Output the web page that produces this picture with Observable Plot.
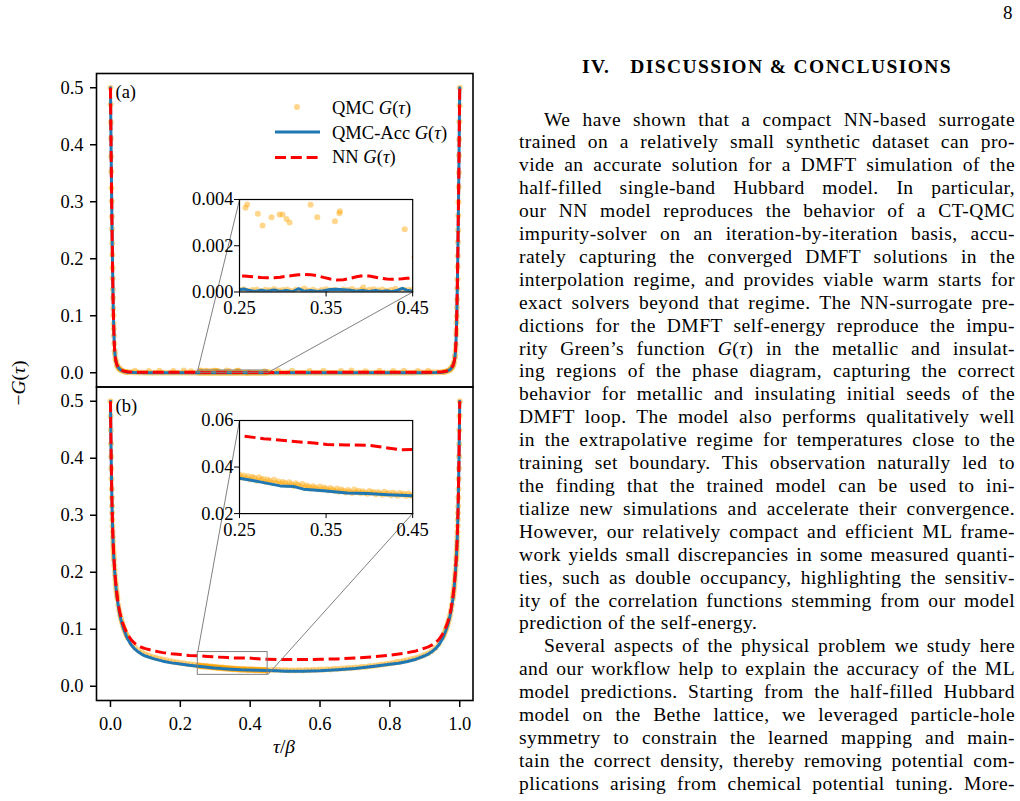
<!DOCTYPE html>
<html>
<head>
<meta charset="utf-8">
<script src="https://cdn.jsdelivr.net/npm/d3@7"></script>
<script src="https://cdn.jsdelivr.net/npm/@observablehq/plot@0.6"></script>
<style>
html,body{margin:0;padding:0;background:#fff}
body{width:1020px;height:801px;position:relative;overflow:hidden;font-family:"Liberation Serif","Times New Roman",serif;color:#000}
.abs{position:absolute}
#fig{position:absolute;left:0;top:0;width:500px;height:801px}
#fig svg{position:absolute;display:block;left:0;top:0}
.col{position:absolute;left:519px;top:108.5px;width:496px;font-size:19.5px;line-height:22.9px;letter-spacing:0.45px}
.col div{white-space:nowrap;text-align:left}
.col div.i{padding-left:25px}
.hd{position:absolute;left:519px;width:496px;top:55px;text-align:center;font-weight:bold;font-size:19.5px;line-height:24px;white-space:nowrap}
.pn{position:absolute;left:1003px;top:2px;font-size:19px;line-height:22px}
.leg{position:absolute;left:332px;font-size:18.5px;line-height:22px;white-space:nowrap}
.lab{position:absolute;font-size:19.5px;line-height:22px;white-space:nowrap;transform:translate(-50%,-50%)}
</style>
</head>
<body>
<div id="fig"></div>
<svg class="abs" style="left:270px;top:95px" width="60" height="75">
  <circle cx="27" cy="12" r="3" fill="#ffa500" fill-opacity="0.45"/>
  <line x1="5" x2="50" y1="37" y2="37" stroke="#1f77b4" stroke-width="3"/>
  <line x1="5" x2="50" y1="62.5" y2="62.5" stroke="#ff0000" stroke-width="3" stroke-dasharray="11,4.8"/>
</svg>
<div class="leg" style="top:97px">QMC <i>G</i>(<i>τ</i>)</div>
<div class="leg" style="top:121.5px">QMC-Acc <i>G</i>(<i>τ</i>)</div>
<div class="leg" style="top:146px">NN <i>G</i>(<i>τ</i>)</div>
<div class="lab" style="left:19px;top:383px;transform:translate(-50%,-50%) rotate(-90deg)">−<i>G</i>(<i>τ</i>)</div>
<div class="lab" style="left:284px;top:747px"><i>τ</i>/<i>β</i></div>

<div class="pn">8</div>
<div class="hd"><span id="hdtxt">IV.<span style="display:inline-block;width:20px"></span>DISCUSSION &amp; CONCLUSIONS</span></div>
<div class="col">
<div class="i">We have shown that a compact NN-based surrogate</div>
<div>trained on a relatively small synthetic dataset can pro-</div>
<div>vide an accurate solution for a DMFT simulation of the</div>
<div>half-filled single-band Hubbard model. In particular,</div>
<div>our NN model reproduces the behavior of a CT-QMC</div>
<div>impurity-solver on an iteration-by-iteration basis, accu-</div>
<div>rately capturing the converged DMFT solutions in the</div>
<div>interpolation regime, and provides viable warm starts for</div>
<div>exact solvers beyond that regime. The NN-surrogate pre-</div>
<div>dictions for the DMFT self-energy reproduce the impu-</div>
<div>rity Green’s function <i>G</i>(<i>τ</i>) in the metallic and insulat-</div>
<div>ing regions of the phase diagram, capturing the correct</div>
<div>behavior for metallic and insulating initial seeds of the</div>
<div>DMFT loop. The model also performs qualitatively well</div>
<div>in the extrapolative regime for temperatures close to the</div>
<div>training set boundary. This observation naturally led to</div>
<div>the finding that the trained model can be used to ini-</div>
<div>tialize new simulations and accelerate their convergence.</div>
<div>However, our relatively compact and efficient ML frame-</div>
<div>work yields small discrepancies in some measured quanti-</div>
<div>ties, such as double occupancy, highlighting the sensitiv-</div>
<div>ity of the correlation functions stemming from our model</div>
<div class="e">prediction of the self-energy.</div>
<div class="i">Several aspects of the physical problem we study here</div>
<div>and our workflow help to explain the accuracy of the ML</div>
<div>model predictions. Starting from the half-filled Hubbard</div>
<div>model on the Bethe lattice, we leveraged particle-hole</div>
<div>symmetry to constrain the learned mapping and main-</div>
<div>tain the correct density, thereby removing potential com-</div>
<div>plications arising from chemical potential tuning. More-</div>
</div>

<script>
// ---------------- DATA (tau/beta, -G(tau)) ----------------
// Panel (a): insulating solution
const accA = [[0,0.5],[0.001,0.44],[0.002,0.38],[0.003,0.325],[0.004,0.275],[0.005,0.228],[0.006,0.185],[0.007,0.147],[0.008,0.114],[0.009,0.087],[0.01,0.066],[0.011,0.05],[0.012,0.039],[0.014,0.026],[0.016,0.019],[0.018,0.0145],[0.02,0.0115],[0.025,0.007],[0.03,0.0045],[0.035,0.0031],[0.04,0.0021],[0.05,0.001],[0.07,0.0004],[0.1,0.0002],[0.15,0.00012],[0.2,0.0001],[0.225,0.00008],
[0.25,0.0001],[0.255,0.00013],[0.262,0.00006],[0.268,0.00002],[0.275,0.00008],[0.282,0.00003],[0.29,0.00009],[0.297,0.00002],[0.304,0.00007],[0.311,0.00001],[0.318,0.00014],[0.325,0.00003],[0.332,0.00006],[0.34,0.00002],[0.347,0.00005],[0.355,0.00011],[0.362,0.00012],[0.37,0.0001],[0.378,0.00008],[0.385,0.00003],[0.392,0.00006],[0.4,0.00002],[0.407,0.00007],[0.414,0.00002],[0.42,0.00005],[0.426,0.00001],[0.433,0.00008],[0.438,0.00016],[0.443,0.00008],[0.45,0.00003],
[0.475,0.00008],[0.5,0.0001],[0.55,0.00009],[0.6,0.0001],[0.7,0.0001],[0.8,0.00012],[0.85,0.00015],[0.9,0.0002],[0.93,0.0004],[0.95,0.001],[0.96,0.0021],[0.965,0.0031],[0.97,0.0045],[0.975,0.007],[0.98,0.0115],[0.982,0.0145],[0.984,0.019],[0.986,0.026],[0.988,0.039],[0.989,0.05],[0.99,0.066],[0.991,0.087],[0.992,0.114],[0.993,0.147],[0.994,0.185],[0.995,0.228],[0.996,0.275],[0.997,0.325],[0.998,0.38],[0.999,0.44],[1,0.5]];

const nnA = [[0,0.5],[0.001,0.44],[0.002,0.38],[0.003,0.325],[0.004,0.275],[0.005,0.228],[0.006,0.185],[0.007,0.147],[0.008,0.114],[0.009,0.087],[0.01,0.066],[0.011,0.0505],[0.012,0.0395],[0.014,0.0265],[0.016,0.0195],[0.018,0.015],[0.02,0.012],[0.025,0.0075],[0.03,0.005],[0.035,0.0036],[0.04,0.0026],[0.05,0.0015],[0.07,0.001],[0.1,0.0008],[0.15,0.00075],[0.2,0.00072],[0.225,0.0007],
[0.25,0.0007],[0.255,0.00069],[0.262,0.00067],[0.268,0.00065],[0.275,0.00063],[0.282,0.00062],[0.29,0.00062],[0.297,0.00064],[0.304,0.00068],[0.311,0.00071],[0.318,0.00074],[0.325,0.00076],[0.332,0.00075],[0.34,0.0007],[0.347,0.00063],[0.355,0.00056],[0.362,0.00052],[0.37,0.00053],[0.378,0.00059],[0.385,0.00066],[0.392,0.0007],[0.4,0.00069],[0.407,0.00064],[0.414,0.00059],[0.42,0.00056],[0.426,0.00055],[0.433,0.00056],[0.438,0.00057],[0.443,0.00059],[0.45,0.0006],
[0.475,0.00062],[0.5,0.00065],[0.55,0.00068],[0.6,0.0007],[0.7,0.0007],[0.8,0.00072],[0.85,0.00075],[0.9,0.0008],[0.93,0.001],[0.95,0.0015],[0.96,0.0026],[0.965,0.0036],[0.97,0.005],[0.975,0.0075],[0.98,0.012],[0.982,0.015],[0.984,0.0195],[0.986,0.0265],[0.988,0.0395],[0.989,0.0505],[0.99,0.066],[0.991,0.087],[0.992,0.114],[0.993,0.147],[0.994,0.185],[0.995,0.228],[0.996,0.275],[0.997,0.325],[0.998,0.38],[0.999,0.44],[1,0.5]];

const qmcA = [[0,0.5],[0.0005,0.471],[0.001,0.439],[0.0015,0.411],[0.002,0.379],[0.0025,0.353],[0.003,0.324],[0.0035,0.301],[0.004,0.274],[0.0045,0.252],[0.005,0.227],[0.0055,0.207],[0.006,0.184],[0.0065,0.166],[0.007,0.146],[0.0075,0.131],[0.008,0.113],[0.0085,0.101],[0.009,0.086],[0.0095,0.077],[0.01,0.065],[0.011,0.051],[0.012,0.038],[0.013,0.033],[0.014,0.025],[0.016,0.02],[0.018,0.014],[0.02,0.012],[0.0225,0.0088],[0.025,0.0073],[0.0275,0.0055],[0.03,0.0047],[0.035,0.003],[0.04,0.0022],[0.045,0.0014],
[0.05,0.0011],[0.06,0.0007],[0.07,0.0005],[0.08,0.0003],[0.09,0.00025],[0.1,0.0002],[0.11,0.00015],[0.12,0.00012],[0.13,0.0001],[0.14,0.00009],[0.15,0.00011],[0.16,0.00008],[0.17,0.0001],[0.18,0.00007],[0.19,0.00011],[0.2,0.00009],[0.21,0.00006],[0.22,0.0001],[0.23,0.00008],[0.24,0.00011],
[0.25,0.00009],[0.255,0.00012],[0.26,0.00005],[0.265,0.00008],[0.27,0.00011],[0.275,0.00004],[0.28,0.0001],[0.285,0.00007],[0.29,0.00013],[0.295,0.00006],[0.3,0.00009],[0.305,0.00011],[0.31,0.00004],[0.315,0.0001],[0.32,0.00008],[0.325,0.00015],[0.33,0.00006],[0.335,0.0001],[0.34,0.00003],[0.345,0.00009],[0.35,0.00012],[0.355,0.00007],[0.36,0.0001],[0.365,0.00005],[0.37,0.00011],[0.375,0.00008],[0.38,0.00013],[0.385,0.00006],[0.39,0.00009],[0.393,0.00019],[0.395,0.00004],[0.4,0.0001],[0.405,0.00012],[0.41,0.00007],[0.415,0.00011],[0.42,0.00005],[0.425,0.00009],[0.43,0.00014],[0.435,0.00006],[0.44,0.0001],[0.445,0.00008],[0.45,0.00011],
[0.46,0.00009],[0.47,0.00006],[0.48,0.0001],[0.49,0.00008],[0.5,0.00011],[0.51,0.00007],[0.52,0.0001],[0.53,0.00005],[0.54,0.00009],[0.55,0.00012],[0.56,0.00008],[0.57,0.0001],[0.58,0.00006],[0.59,0.00009],[0.6,0.00011],[0.61,0.00007],[0.62,0.0001],[0.63,0.00008],[0.64,0.00012],[0.65,0.00006],[0.66,0.00009],[0.67,0.0001],[0.68,0.00007],[0.69,0.00011],[0.7,0.00008],[0.71,0.0001],[0.72,0.00006],[0.73,0.00009],[0.74,0.00012],[0.75,0.00008],[0.76,0.0001],[0.77,0.00007],[0.78,0.00011],[0.79,0.00009],[0.8,0.00012],[0.81,0.0001],[0.82,0.00013],[0.83,0.00011],[0.84,0.00014],[0.85,0.00015],[0.86,0.00017],[0.87,0.0002],[0.88,0.00022],[0.89,0.00027],[0.9,0.00032],[0.91,0.0004],[0.92,0.0005],[0.93,0.0007],[0.94,0.0009],[0.95,0.0013],
[0.955,0.0015],[0.96,0.0021],[0.965,0.0032],[0.97,0.0045],[0.9725,0.0058],[0.975,0.0071],[0.9775,0.0091],[0.98,0.0114],[0.982,0.0146],[0.984,0.019],[0.986,0.027],[0.987,0.031],[0.988,0.04],[0.989,0.049],[0.99,0.067],[0.9905,0.075],[0.991,0.088],[0.9915,0.099],[0.992,0.115],[0.9925,0.129],[0.993,0.148],[0.9935,0.164],[0.994,0.186],[0.9945,0.205],[0.995,0.229],[0.9955,0.25],[0.996,0.276],[0.9965,0.299],[0.997,0.326],[0.9975,0.351],[0.998,0.381],[0.9985,0.409],[0.999,0.441],[0.9995,0.469],[1,0.5],
// scattered QMC outliers
[0.2569,0.00364],[0.2589,0.00378],[0.2712,0.00338],[0.2766,0.00287],[0.287,0.00323],[0.2962,0.00335],[0.2997,0.00335],[0.3043,0.00316],[0.3078,0.00301],[0.3321,0.00377],[0.3398,0.00323],[0.3602,0.00306],[0.3653,0.0034],[0.366,0.00349],[0.4408,0.00271],[0.452,0.0015],
[0.07,0.0034],[0.11,0.0029],[0.14,0.0036],[0.18,0.0031],[0.21,0.0038],[0.23,0.0027],[0.48,0.0033],[0.52,0.0036],[0.57,0.0029],[0.61,0.0035],[0.66,0.0031],[0.69,0.0038],[0.73,0.0028],[0.77,0.0034],[0.81,0.0032],[0.84,0.0037],[0.88,0.003],[0.91,0.0035]];

// Panel (b): metallic solution
const accB = [[0,0.5],[0.001,0.448],[0.002,0.402],[0.003,0.363],[0.004,0.33],[0.005,0.303],[0.006,0.28],[0.007,0.261],[0.008,0.245],[0.009,0.232],[0.01,0.221],[0.012,0.202],[0.014,0.186],[0.016,0.172],[0.018,0.161],[0.02,0.151],[0.025,0.131],[0.03,0.117],[0.035,0.106],[0.04,0.097],[0.045,0.089],[0.05,0.082],[0.06,0.072],[0.07,0.065],[0.08,0.06],[0.09,0.056],[0.1,0.053],[0.125,0.048],[0.15,0.044],[0.175,0.041],[0.2,0.039],[0.225,0.037],
[0.25,0.0352],[0.265,0.0342],[0.278,0.0333],[0.297,0.0319],[0.313,0.0316],[0.324,0.0305],[0.347,0.0298],[0.374,0.0288],[0.398,0.0286],[0.421,0.0281],[0.45,0.0277],
[0.475,0.027],[0.5,0.0264],[0.525,0.0263],[0.55,0.0265],[0.6,0.0272],[0.65,0.0288],[0.7,0.031],[0.75,0.0345],[0.8,0.0385],[0.825,0.0405],[0.85,0.0435],[0.875,0.0475],[0.9,0.0535],[0.91,0.0565],[0.92,0.0605],[0.93,0.0655],[0.94,0.0725],[0.95,0.0825],[0.955,0.0895],[0.96,0.0975],[0.965,0.1065],[0.97,0.1175],[0.975,0.1315],[0.98,0.1515],[0.982,0.1615],[0.984,0.1725],[0.986,0.1865],[0.988,0.2025],[0.99,0.2215],[0.991,0.2325],[0.992,0.2455],[0.993,0.2615],[0.994,0.2805],[0.995,0.3035],[0.996,0.3305],[0.997,0.3635],[0.998,0.4025],[0.999,0.4485],[1,0.5]];

const nnB = [[0,0.5],[0.001,0.45],[0.002,0.404],[0.003,0.366],[0.004,0.333],[0.005,0.306],[0.006,0.283],[0.007,0.264],[0.008,0.248],[0.009,0.235],[0.01,0.224],[0.012,0.205],[0.014,0.189],[0.016,0.175],[0.018,0.164],[0.02,0.154],[0.025,0.135],[0.03,0.121],[0.035,0.111],[0.04,0.103],[0.045,0.096],[0.05,0.09],[0.06,0.081],[0.07,0.075],[0.08,0.071],[0.09,0.068],[0.1,0.066],[0.125,0.062],[0.15,0.059],[0.175,0.057],[0.2,0.0555],[0.225,0.054],
[0.25,0.0535],[0.278,0.0522],[0.309,0.0511],[0.336,0.0503],[0.351,0.0497],[0.374,0.0495],[0.398,0.0494],[0.421,0.0482],[0.436,0.0474],[0.45,0.0475],
[0.475,0.0471],[0.5,0.0468],[0.525,0.0467],[0.55,0.0468],[0.6,0.0472],[0.65,0.048],[0.7,0.0495],[0.75,0.0515],[0.8,0.0545],[0.825,0.0565],[0.85,0.059],[0.875,0.062],[0.9,0.067],[0.91,0.069],[0.92,0.072],[0.93,0.076],[0.94,0.082],[0.95,0.0905],[0.955,0.0965],[0.96,0.1035],[0.965,0.1115],[0.97,0.1215],[0.975,0.1355],[0.98,0.1545],[0.982,0.1645],[0.984,0.1755],[0.986,0.1895],[0.988,0.2055],[0.99,0.2245],[0.991,0.2355],[0.992,0.2485],[0.993,0.2645],[0.994,0.2835],[0.995,0.3065],[0.996,0.3335],[0.997,0.3665],[0.998,0.4045],[0.999,0.45],[1,0.5]];

const qmcB = [[0,0.5],[0.0005,0.474],[0.001,0.449],[0.0015,0.425],[0.002,0.403],[0.0025,0.382],[0.003,0.364],[0.0035,0.346],[0.004,0.331],[0.0045,0.316],[0.005,0.304],[0.0055,0.292],[0.006,0.281],[0.0065,0.271],[0.007,0.262],[0.0075,0.254],[0.008,0.246],[0.0085,0.239],[0.009,0.233],[0.0095,0.227],[0.01,0.222],[0.011,0.212],[0.012,0.203],[0.013,0.195],[0.014,0.187],[0.015,0.18],[0.016,0.174],[0.017,0.168],[0.018,0.163],[0.019,0.158],[0.02,0.153],[0.0225,0.142],[0.025,0.133],[0.0275,0.125],[0.03,0.119],[0.0325,0.113],[0.035,0.108],[0.0375,0.103],[0.04,0.099],[0.0425,0.095],[0.045,0.091],[0.0475,0.088],[0.05,0.085],
[0.06,0.0755],[0.07,0.0685],[0.08,0.063],[0.09,0.059],[0.1,0.056],[0.11,0.054],[0.12,0.0515],[0.13,0.0502],[0.14,0.0483],[0.15,0.047],[0.16,0.0455],[0.17,0.0443],[0.18,0.043],[0.19,0.0422],[0.2,0.041],[0.21,0.0402],[0.22,0.039],[0.23,0.0386],[0.24,0.0376],
[0.25,0.0368],[0.2525,0.0355],[0.255,0.0364],[0.2575,0.0352],[0.26,0.036],[0.2625,0.0347],[0.265,0.0357],[0.2675,0.0353],[0.27,0.0341],[0.2725,0.0356],[0.275,0.0345],[0.2775,0.0349],[0.28,0.0336],[0.2825,0.0347],[0.285,0.034],[0.2875,0.0333],[0.29,0.0345],[0.2925,0.033],[0.295,0.0338],[0.2975,0.0327],[0.3,0.0336],[0.3025,0.0331],[0.305,0.0322],[0.3075,0.0335],[0.31,0.0326],[0.3125,0.0319],[0.315,0.033],[0.3175,0.0323],[0.32,0.0316],[0.3225,0.0327],[0.325,0.0312],[0.3275,0.0321],[0.33,0.0315],[0.3325,0.0308],[0.335,0.0318],[0.3375,0.0311],[0.34,0.0305],[0.3425,0.0316],[0.345,0.0303],[0.3475,0.0312],[0.35,0.0307],[0.3525,0.0299],[0.355,0.031],[0.3575,0.0302],[0.36,0.0297],[0.3625,0.0308],[0.365,0.0294],[0.3675,0.0303],[0.37,0.0298],[0.3725,0.0291],[0.375,0.0301],[0.3775,0.0295],[0.38,0.0289],[0.3825,0.0303],[0.385,0.0292],[0.3875,0.0298],[0.39,0.0287],[0.3925,0.0296],[0.395,0.029],[0.3975,0.0285],[0.4,0.0297],[0.4025,0.0288],[0.405,0.0293],[0.4075,0.0283],[0.41,0.0292],[0.4125,0.0287],[0.415,0.0281],[0.4175,0.0294],[0.42,0.0284],[0.4225,0.0289],[0.425,0.0279],[0.4275,0.029],[0.43,0.0283],[0.4325,0.0277],[0.435,0.0288],[0.4375,0.0281],[0.44,0.0285],[0.4425,0.0276],[0.445,0.0286],[0.4475,0.0279],[0.45,0.0274],
[0.46,0.029],[0.47,0.0284],[0.48,0.0289],[0.49,0.0279],[0.5,0.0283],[0.51,0.0276],[0.52,0.0281],[0.53,0.0275],[0.54,0.0284],[0.55,0.0278],[0.56,0.0286],[0.57,0.028],[0.58,0.0291],[0.59,0.0285],[0.6,0.0292],[0.61,0.0289],[0.62,0.0298],[0.63,0.0295],[0.64,0.0306],[0.65,0.0301],[0.66,0.0312],[0.67,0.031],[0.68,0.0321],[0.69,0.0318],[0.7,0.033],[0.71,0.0328],[0.72,0.034],[0.73,0.0339],[0.74,0.0352],[0.75,0.0356],[0.76,0.0365],[0.77,0.0372],[0.78,0.0381],[0.79,0.0392],[0.8,0.0401],[0.81,0.0409],[0.82,0.0424],[0.83,0.0432],[0.84,0.0449],[0.85,0.0455],[0.86,0.0472],[0.87,0.0488],[0.88,0.0506],[0.89,0.0528],[0.9,0.0551],[0.91,0.058],[0.92,0.062],[0.93,0.067],[0.94,0.074],
[0.95,0.085],[0.9525,0.088],[0.955,0.091],[0.9575,0.095],[0.96,0.099],[0.9625,0.103],[0.965,0.108],[0.9675,0.113],[0.97,0.119],[0.9725,0.125],[0.975,0.133],[0.9775,0.142],[0.98,0.153],[0.981,0.158],[0.982,0.163],[0.983,0.168],[0.984,0.174],[0.985,0.18],[0.986,0.187],[0.987,0.195],[0.988,0.203],[0.989,0.212],[0.99,0.222],[0.9905,0.227],[0.991,0.233],[0.9915,0.239],[0.992,0.246],[0.9925,0.254],[0.993,0.262],[0.9935,0.271],[0.994,0.281],[0.9945,0.292],[0.995,0.304],[0.9955,0.316],[0.996,0.331],[0.9965,0.346],[0.997,0.364],[0.9975,0.382],[0.998,0.403],[0.9985,0.425],[0.999,0.449],[0.9995,0.474],[1,0.5]];

// Ticks
const yTicksMain = [0, 0.1, 0.2, 0.3, 0.4, 0.5];
const xTicksMain = [0, 0.2, 0.4, 0.6, 0.8, 1.0];
const insetX = [0.25, 0.45];
const insetXTicks = [0.25, 0.35, 0.45];
const insetAY = [0, 0.004], insetAYTicks = [0, 0.002, 0.004];
const insetBY = [0.02, 0.06], insetBYTicks = [0.02, 0.04, 0.06];

// ---------------- LAYOUT / STYLE ----------------
const X_DOMAIN = [-0.04, 1.038], Y_DOMAIN = [-0.025, 0.525];
const FIG_W = 500, PL = 96, PR = 472.5;
const PANELS = {a: {top: 73, bottom: 386.5}, b: {top: 386.5, bottom: 700}};
const INSET_FRAC = {a: [0.38, 0.303, 0.46, 0.295], b: [0.38, 0.597, 0.46, 0.297]};
const COLORS = {qmc: "#ffa500", acc: "#1f77b4", nn: "#ff0000", zoom: "#808080"};
const FONT = '"Liberation Serif", "Times New Roman", serif';
const FS = 18.5;
const STYLE = {fontFamily: FONT, fontSize: FS + "px", background: "transparent", overflow: "visible", color: "#000"};

const fig = document.getElementById("fig");
const toRows = arr => arr.map(([t, v]) => ({t, v}));

function seriesMarks(qmc, acc, nn, clip) {
  return [
    Plot.dot(toRows(qmc), {x: "t", y: "v", r: 3, fill: COLORS.qmc, fillOpacity: 0.45, clip}),
    Plot.line(toRows(acc), {x: "t", y: "v", stroke: COLORS.acc, strokeWidth: 3, clip}),
    Plot.line(toRows(nn), {x: "t", y: "v", stroke: COLORS.nn, strokeWidth: 3, strokeDasharray: "11,4.8", strokeLinecap: "butt", clip})
  ];
}

function mainPanel(key, qmc, acc, nn, insetY, label, showX) {
  const {top, bottom} = PANELS[key];
  const height = showX ? 801 : bottom + 14;
  const xs = d3.scaleLinear(X_DOMAIN, [PL, PR]);
  const ys = d3.scaleLinear(Y_DOMAIN, [bottom, top]);
  const [fx, fy, fw, fh] = INSET_FRAC[key];
  const W = PR - PL, H = bottom - top;
  const box = {left: PL + fx * W, right: PL + (fx + fw) * W, bottom: bottom - fy * H, top: bottom - (fy + fh) * H};
  const links = [
    {x1: insetX[0], y1: insetY[1], x2: xs.invert(box.left), y2: ys.invert(box.top)},
    {x1: insetX[1], y1: insetY[0], x2: xs.invert(box.right), y2: ys.invert(box.bottom)}
  ];
  const marks = [
    ...seriesMarks(qmc, acc, nn, false),
    Plot.rect([{x1: insetX[0], x2: insetX[1], y1: insetY[0], y2: insetY[1]}], {x1: "x1", x2: "x2", y1: "y1", y2: "y2", fill: "none", stroke: COLORS.zoom, strokeWidth: 1}),
    Plot.link(links, {x1: "x1", y1: "y1", x2: "x2", y2: "y2", stroke: COLORS.zoom, strokeWidth: 1}),
    Plot.axisY(yTicksMain, {tickFormat: d => d.toFixed(1), tickSize: 6, tickPadding: 7, strokeWidth: 1.5, label: null}),
    Plot.frame({stroke: "#000", strokeWidth: 1.6}),
    Plot.text([label], {frameAnchor: "top-left", text: d => d, dx: 19, dy: 19, textAnchor: "start", lineAnchor: "middle", fontSize: FS})
  ];
  if (showX) marks.push(Plot.axisX(xTicksMain, {tickFormat: d => d.toFixed(1), tickSize: 7, tickPadding: 9, strokeWidth: 1.5, label: null}));
  const svg = Plot.plot({
    width: FIG_W, height,
    marginTop: top, marginBottom: height - bottom, marginLeft: PL, marginRight: FIG_W - PR,
    x: showX ? {domain: X_DOMAIN} : {domain: X_DOMAIN, axis: null},
    y: {domain: Y_DOMAIN},
    style: STYLE,
    marks
  });
  fig.appendChild(svg);
  return box;
}

function insetPanel(box, qmc, acc, nn, yDom, yTicks, yFmt) {
  const mL = 60, mR = 26, mT = 10, mB = 32;
  const w = box.right - box.left, h = box.bottom - box.top;
  const svg = Plot.plot({
    width: mL + w + mR, height: mT + h + mB,
    marginLeft: mL, marginRight: mR, marginTop: mT, marginBottom: mB,
    x: {domain: insetX}, y: {domain: yDom},
    style: STYLE,
    marks: [
      Plot.frame({fill: "#fff"}),
      ...seriesMarks(qmc, acc, nn, true),
      Plot.axisX(insetXTicks, {tickFormat: d => d.toFixed(2), tickSize: 5, tickPadding: 4, label: null}),
      Plot.axisY(yTicks, {tickFormat: yFmt, tickSize: 5, tickPadding: 1, label: null}),
      Plot.frame({stroke: "#000", strokeWidth: 1.2})
    ]
  });
  svg.style.left = (box.left - mL) + "px";
  svg.style.top = (box.top - mT) + "px";
  fig.appendChild(svg);
}

const boxA = mainPanel("a", qmcA, accA, nnA, insetAY, "(a)", false);
const boxB = mainPanel("b", qmcB, accB, nnB, insetBY, "(b)", true);
insetPanel(boxA, qmcA, accA, nnA, insetAY, insetAYTicks, d => d.toFixed(3));
insetPanel(boxB, qmcB, accB, nnB, insetBY, insetBYTicks, d => d.toFixed(2));

// ---- justify each text line to the column width (TeX-like line breaks) ----
const COL_W = 496;
document.querySelectorAll(".col > div").forEach(div => {
  div.innerHTML = "<span>" + div.innerHTML.trim() + "</span>";
  if (div.classList.contains("e")) return;
  const span = div.firstChild;
  const indent = div.classList.contains("i") ? 25 : 0;
  const w = span.getBoundingClientRect().width;
  const n = span.textContent.trim().split(/\s+/).length - 1;
  if (n > 0) span.style.wordSpacing = ((COL_W - indent - w) / n) + "px";
});
// heading width as in the reference (about 370px)
const hd = document.getElementById("hdtxt");
const hw = hd.getBoundingClientRect().width;
hd.style.letterSpacing = ((370 - hw) / hd.textContent.length) + "px";
</script>
</body>
</html>
